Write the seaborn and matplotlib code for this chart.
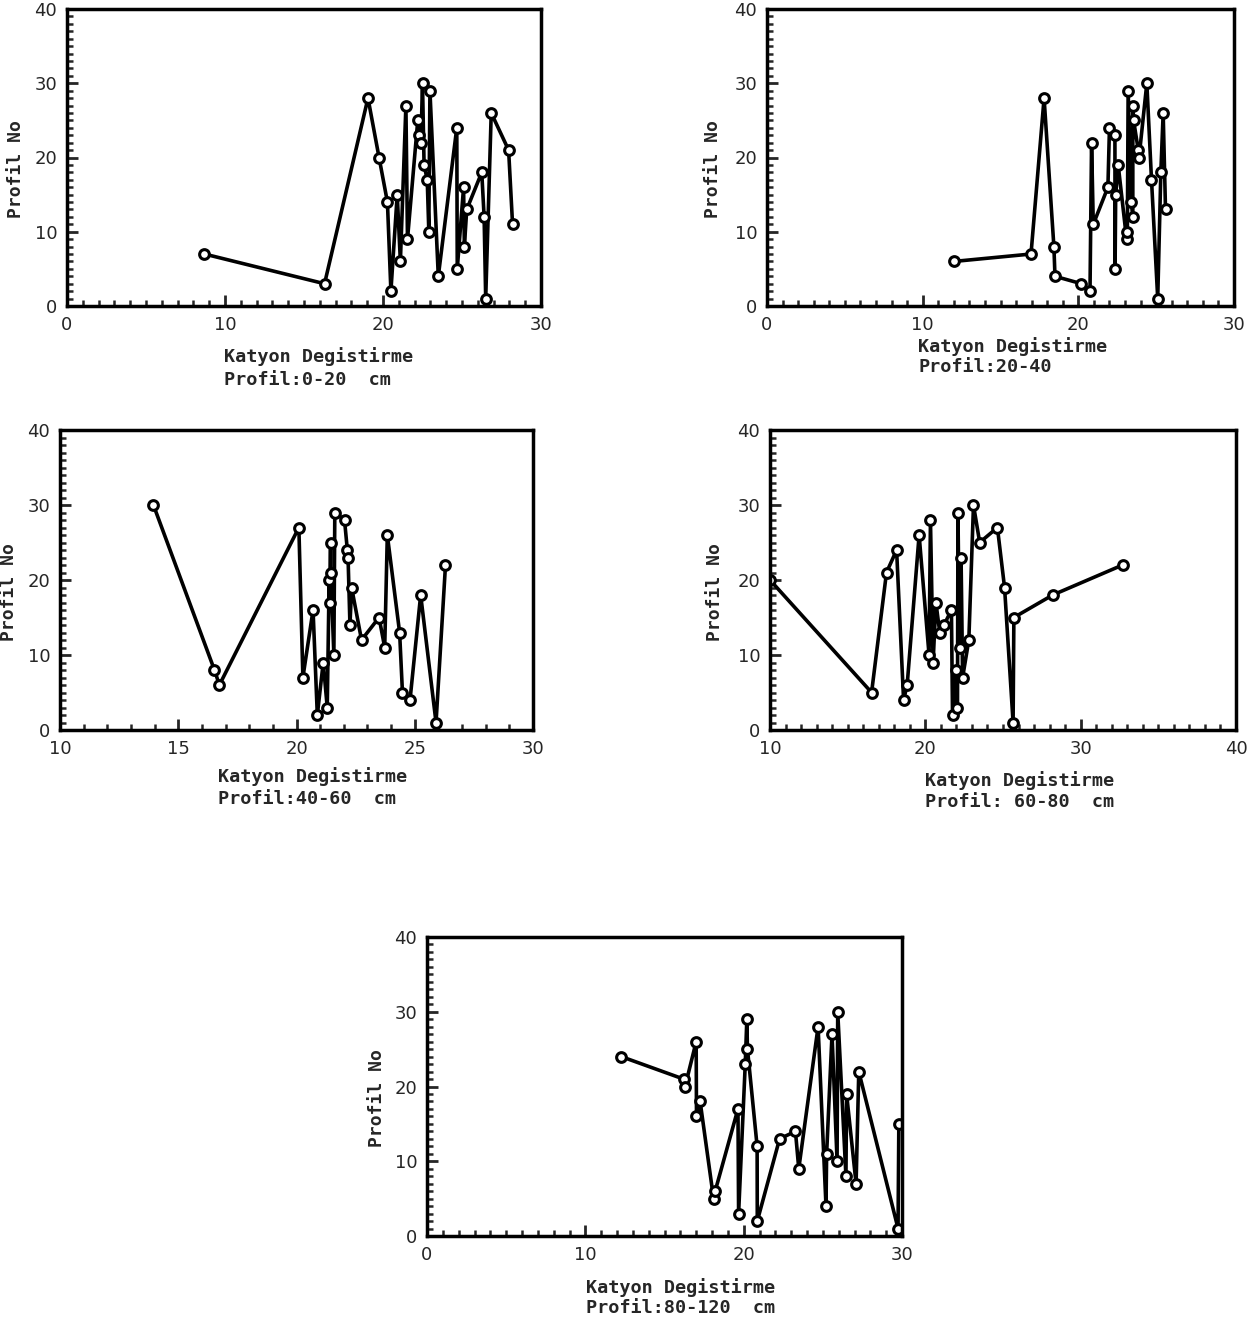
import numpy as np
import pandas as pd
import matplotlib
matplotlib.use("Agg")
import matplotlib.pyplot as plt
from matplotlib.ticker import MultipleLocator
import seaborn as sns

# ---------------- data ----------------
p1_x = [8.7, 16.3, 19.05, 19.75, 20.28, 20.5, 20.9, 21.1, 21.45, 21.55, 22.2, 22.3, 22.4, 22.5,
        22.6, 22.97, 22.8, 22.9, 23.5, 24.67, 24.7, 25.1, 25.15, 25.3, 26.25, 26.4, 26.5, 26.85,
        27.95, 28.2]
p1_y = [7, 3, 28, 20, 14, 2, 15, 6, 27, 9, 25, 23, 22, 30, 19, 29, 17, 10, 4, 24, 5, 16, 8, 13,
        18, 12, 1, 26, 21, 11]

p2_x = [12.0, 16.96, 17.8, 18.43, 18.5, 20.2, 20.75, 20.85, 20.96, 21.9, 22.0, 22.35, 22.4,
        22.36, 22.56, 23.1, 23.2, 23.15, 23.4, 23.5, 23.5, 23.55, 23.85, 23.9, 24.4, 24.7, 25.1,
        25.3, 25.45, 25.6]
p2_y = [6, 7, 28, 8, 4, 3, 2, 22, 11, 16, 24, 23, 15, 5, 19, 9, 29, 10, 14, 12, 27, 25, 21, 20,
        30, 17, 1, 18, 26, 13]

p3_x = [13.95, 16.53, 16.74, 20.1, 20.27, 20.7, 20.88, 21.13, 21.3, 21.38, 21.4, 21.44, 21.45,
        21.58, 21.62, 22.03, 22.15, 22.18, 22.26, 22.33, 22.75, 23.49, 23.73, 23.84, 24.36, 24.48,
        24.8, 25.25, 25.9, 26.3]
p3_y = [30, 8, 6, 27, 7, 16, 2, 9, 3, 20, 17, 25, 21, 10, 29, 28, 24, 23, 14, 19, 12, 15, 11,
        26, 13, 5, 4, 18, 1, 22]

p4_x = [10.0, 16.54, 17.5, 18.15, 18.6, 18.83, 19.6, 20.24, 20.33, 20.5, 20.68, 20.93, 21.2,
        21.68, 21.75, 21.95, 22.07, 22.1, 22.2, 22.3, 22.4, 22.8, 23.1, 23.5, 24.64, 25.1, 25.65,
        25.7, 28.2, 32.7]
p4_y = [20, 5, 21, 24, 4, 6, 26, 10, 28, 9, 17, 13, 14, 16, 2, 8, 3, 29, 11, 23, 7, 12, 30, 25,
        27, 19, 1, 15, 18, 22]

p5_x = [12.27, 16.2, 16.3, 17.0, 17.02, 17.25, 18.1, 18.2, 19.64, 19.68, 20.1, 20.2, 20.24,
        20.85, 20.86, 22.27, 23.27, 23.48, 24.7, 25.2, 25.24, 25.58, 25.94, 25.9, 26.5, 26.46,
        27.1, 27.27, 29.75, 29.8]
p5_y = [24, 21, 20, 26, 16, 18, 5, 6, 17, 3, 23, 29, 25, 12, 2, 13, 14, 9, 28, 4, 11, 27, 30,
        10, 19, 8, 7, 22, 1, 15]

xlims = [(0, 30), (0, 30), (10, 30), (10, 40), (0, 30)]
xmajor = [10, 10, 5, 10, 10]
xlabel_line1 = "Katyon Degistirme"
xlabel_line2 = ["Profil:0-20  cm", "Profil:20-40", "Profil:40-60  cm", "Profil: 60-80  cm",
                "Profil:80-120  cm"]
ylabel = "Profil No"

# ---------------- layout ----------------
W, H = 1254, 1323
sns.set_style("white")
plt.rcParams['font.family'] = ['DejaVu Sans', 'DejaVu Sans Mono']
fig = plt.figure(figsize=(W / 100, H / 100), dpi=100)

# axes boxes in pixels: left, top, right, bottom
boxes = [(67, 9, 541, 306), (767, 9, 1234, 306), (60, 430, 533, 730),
         (770, 430, 1236, 730), (427, 937, 902, 1236)]
label_pos = [(224, 357, 380), (918, 347, 367), (218, 777, 799), (925, 781, 802),
             (586, 1288, 1308)]
ylab_x = [17, 714, 10, 716, 378]   # centre of rotated y label (px)

datasets = [(p1_x, p1_y), (p2_x, p2_y), (p3_x, p3_y), (p4_x, p4_y), (p5_x, p5_y)]

mono = 'DejaVu Sans Mono'
for i, ((xs, ys), (l, t, r, b)) in enumerate(zip(datasets, boxes)):
    ax = fig.add_axes([l / W, 1 - b / H, (r - l) / W, (b - t) / H])
    df = pd.DataFrame({"x": xs, "y": ys})
    sns.lineplot(data=df, x="x", y="y", ax=ax, sort=True, estimator=None, color="black",
                 linewidth=2.6, marker="o", markersize=7, markerfacecolor="white",
                 markeredgecolor="black", markeredgewidth=2.2)
    ax.set_xlim(*xlims[i])
    ax.set_ylim(0, 40)
    ax.xaxis.set_major_locator(MultipleLocator(xmajor[i]))
    ax.xaxis.set_minor_locator(MultipleLocator(1))
    ax.yaxis.set_major_locator(MultipleLocator(10))
    ax.yaxis.set_minor_locator(MultipleLocator(1))
    ax.tick_params(axis="both", which="major", direction="in", length=8, width=2,
                   labelsize=13, bottom=True, left=True, top=False, right=False, pad=7)
    ax.tick_params(axis="both", which="minor", direction="in", length=4.5, width=1.8,
                   bottom=True, left=True, top=False, right=False)
    for s in ax.spines.values():
        s.set_linewidth(2.5)
        s.set_color("black")
    ax.set_xlabel("")
    ax.set_ylabel(ylabel, fontsize=13, fontweight="bold", family=mono)
    ax.yaxis.set_label_coords((ylab_x[i] + 8 - l) / (r - l), 0.46)
    lx, ly1, ly2 = label_pos[i]
    fig.text(lx / W, 1 - ly1 / H, xlabel_line1, fontsize=13.3, fontweight="bold",
             family=mono, ha="left", va="center")
    fig.text(lx / W, 1 - ly2 / H, xlabel_line2[i], fontsize=13.3, fontweight="bold",
             family=mono, ha="left", va="center")

fig.savefig("out.png", dpi=100, facecolor="white")
